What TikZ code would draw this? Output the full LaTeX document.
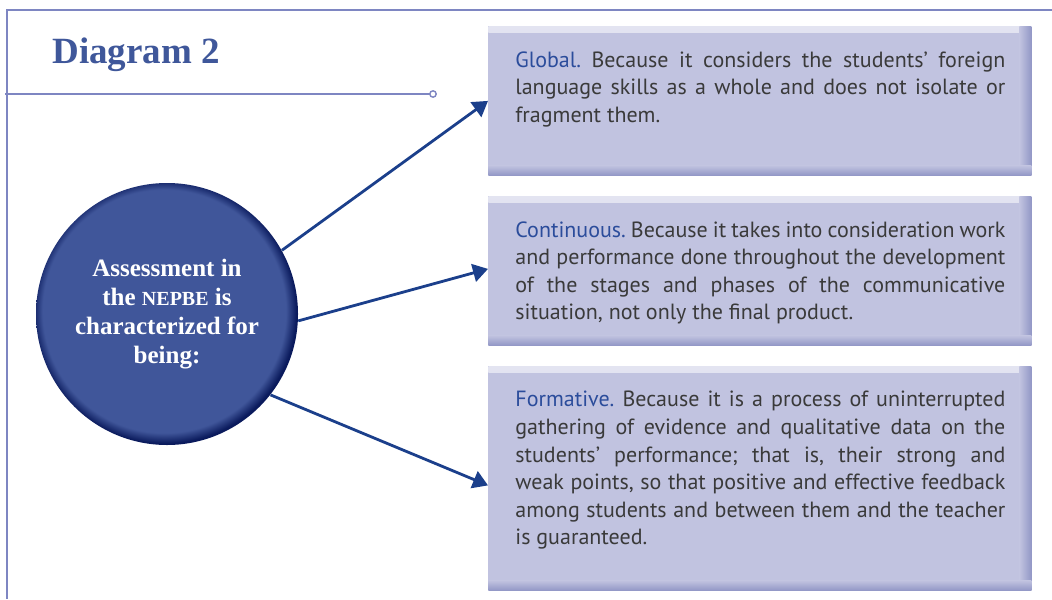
\documentclass[tikz,border=0pt]{standalone}
\usepackage{fontspec}
\setmainfont{Liberation Serif}
\newfontfamily\bodyfont{PT Sans}
\usetikzlibrary{arrows.meta}

\definecolor{framecol}{HTML}{7E86C2}
\definecolor{titlecol}{HTML}{3F579A}
\definecolor{circfill}{HTML}{40569A}
\definecolor{circrim}{HTML}{0A1A5C}
\definecolor{panelfill}{HTML}{C1C3E0}
\definecolor{paneledge}{HTML}{9297C6}
\definecolor{arrowcol}{HTML}{1B3F8B}
\definecolor{keycol}{HTML}{2B4C9B}
\definecolor{bodycol}{HTML}{3A3A3A}

\pgfdeclareradialshading{rimshade}{\pgfpoint{-1bp}{1bp}}{color(0bp)=(circfill); color(23.2bp)=(circfill); color(25.2bp)=(circrim); color(50bp)=(circrim)}

\begin{document}
\begin{tikzpicture}[x=0.5pt, y=-0.5pt,
	frame/.style={draw=framecol, line width=0.7pt},
	panel/.style={rectangle, anchor=north west, inner sep=0pt, fill=panelfill, minimum width=271.5pt,
		path picture={
			\shade[top color=white!55!panelfill, bottom color=panelfill] (path picture bounding box.north west) rectangle ([yshift=-3pt]path picture bounding box.north east);
			\shade[left color=panelfill, right color=paneledge] ([xshift=-6pt]path picture bounding box.north east) rectangle (path picture bounding box.south east);
			\shade[top color=panelfill, bottom color=paneledge] ([yshift=5pt]path picture bounding box.south west) rectangle (path picture bounding box.south east);
		}},
	paneltext/.style={anchor=north west, inner sep=0pt, text width=245pt, align=justify, text=bodycol,
		font=\bodyfont\fontsize{11}{13.8}\selectfont\frenchspacing},
	connector/.style={draw=arrowcol, line width=1.4pt, -{Triangle[length=7.5pt, width=9pt]}}]
	\useasboundingbox (0,0) rectangle (1052,599);
	\draw[frame] (1052,10) -- (7,10) -- (7,599);
	\draw[frame] (5,94) -- (430,94);
	\draw[frame, fill=white] (433,94) circle[radius=1.6pt];
	\node[anchor=base west, inner sep=0pt, text=titlecol, font=\bfseries\fontsize{18.5}{20}\selectfont] (title) at (52,64) {Diagram 2};
	\node[circle, shading=rimshade, minimum size=131pt, inner sep=0pt, align=center, text=white,
		font=\bfseries\fontsize{12.5}{14.5}\selectfont] (hub) at (167,314)
		{Assessment in\\ the {\fontsize{10}{14.5}\selectfont NEPBE} is\\ characterized for\\ being:};
	\node[panel, minimum height=74.5pt] (global) at (488,26) {};
	\node[panel, minimum height=74.5pt] (cont) at (488,196) {};
	\node[panel, minimum height=112pt] (form) at (488,366) {};
	\node[paneltext] (globaltxt) at ([xshift=13.5pt, yshift=-12.5pt]global.north west)
		{\textcolor{keycol}{Global.} Because it considers the students’ foreign\linebreak language skills as a whole and does not isolate or\linebreak fragment them.};
	\node[paneltext] (conttxt) at ([xshift=13.5pt, yshift=-12.5pt]cont.north west)
		{\textcolor{keycol}{Continuous.} Because it takes into consideration work\linebreak and performance done throughout the development\linebreak of the stages and phases of the communicative\linebreak situation, not only the final product.};
	\node[paneltext] (formtxt) at ([xshift=13.5pt, yshift=-12.5pt]form.north west)
		{\textcolor{keycol}{Formative.} Because it is a process of uninterrupted\linebreak gathering of evidence and qualitative data on the\linebreak students’ performance; that is, their strong and\linebreak weak points, so that positive and effective feedback\linebreak among students and between them and the teacher\linebreak is guaranteed.};
	\draw[connector] (hub.29) -- (global.west);
	\draw[connector] (hub.-3) -- ([yshift=1pt]cont.west);
	\draw[connector] (hub.-38) -- ([yshift=-3.5pt]form.west);
\end{tikzpicture}
\end{document}
